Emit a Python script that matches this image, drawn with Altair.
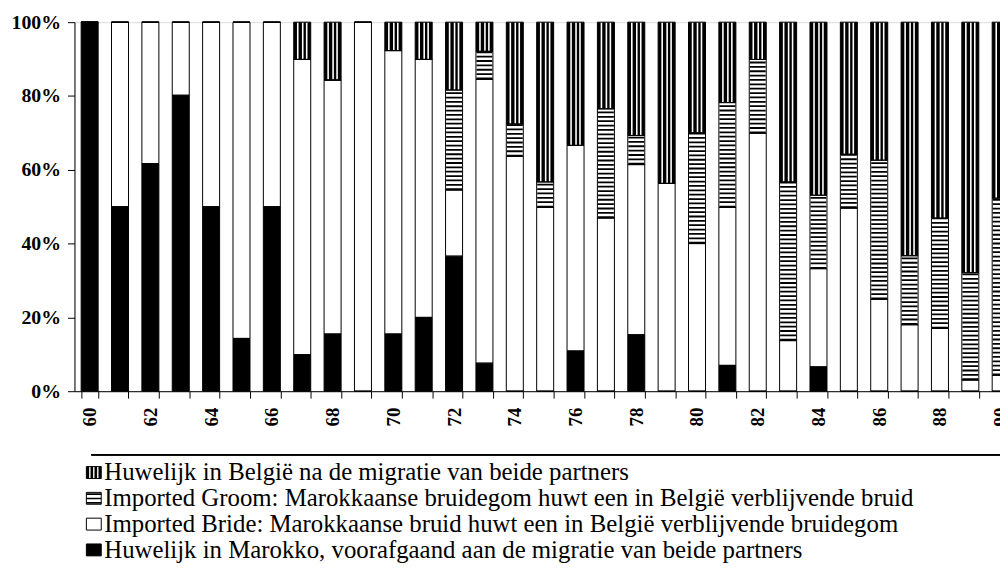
import altair as alt
import pandas as pd

# ---- data (percent shares per year) ----
years = list(range(60, 91))
marokko = [100, 50, 61.7, 80.2, 50, 14.3, 50, 9.9, 15.5, 0, 15.5, 20, 36.6, 7.6, 0, 0,
           10.9, 0, 15.3, 0, 0, 7, 0, 0, 6.6, 0, 0, 0, 0, 0, 0]
bride = [0, 50, 38.3, 19.8, 50, 85.7, 50, 80, 68.8, 100, 76.8, 69.9, 17.9, 76.9, 63.6, 49.8,
         55.7, 46.9, 46.1, 56.3, 40, 42.8, 69.9, 13.7, 26.6, 49.6, 24.9, 18, 17, 3, 4.3]
groom = [0, 0, 0, 0, 0, 0, 0, 0, 0, 0, 0, 0, 27.1, 7.6, 8.8, 6.9,
         0, 29.6, 7.9, 0, 30, 28.4, 20, 43, 19.9, 14.6, 37.7, 18.7, 29.9, 29.1, 48]
belgie = [0, 0, 0, 0, 0, 0, 0, 10.1, 15.7, 0, 7.7, 10.1, 18.4, 7.9, 27.6, 43.3,
          33.4, 23.5, 30.7, 43.7, 30, 21.8, 10.1, 43.3, 46.9, 35.8, 37.4, 63.3, 53.1, 67.9, 47.7]

categories = ["marokko", "bride", "groom", "belgie"]
legend_labels = {
    "belgie": "Huwelijk in België na de migratie van beide partners",
    "groom": "Imported Groom: Marokkaanse bruidegom huwt een in België verblijvende bruid",
    "bride": "Imported Bride: Marokkaanse bruid huwt een in België verblijvende bruidegom",
    "marokko": "Huwelijk in Marokko, voorafgaand aan de migratie van beide partners",
}
legend_order = ["belgie", "groom", "bride", "marokko"]

# ---- build stacked segments ----
series = {"marokko": marokko, "bride": bride, "groom": groom, "belgie": belgie}
rows = []
for i, yr in enumerate(years):
    base = 0.0
    for c in categories:
        v = series[c][i]
        rows.append({"year": yr, "cat": c, "y0": base, "y1": base + v})
        base += v
df = pd.DataFrame(rows)

leg = pd.DataFrame({"cat": legend_order,
                    "label": [legend_labels[c] for c in legend_order],
                    "row": list(range(len(legend_order)))})

SERIF = "Liberation Serif"
color_scale = alt.Scale(domain=categories, range=["#000000", "#ffffff", "#ffffff", "#000000"])

x_enc = alt.X("year:O", title=None,
              scale=alt.Scale(paddingInner=0.44, paddingOuter=0.22),
              axis=alt.Axis(labelAngle=270, labelExpr="datum.value % 2 == 0 ? datum.label : ''",
                            tickBand="extent", tickSize=7, labelPadding=9,
                            labelFont=SERIF, labelFontSize=19, labelFontWeight="bold",
                            labelColor="black", tickColor="black", domainColor="black",
                            domainWidth=1, tickWidth=1, labelOverlap=False, grid=False))
y_enc = alt.Y("y0:Q", title=None,
              scale=alt.Scale(domain=[0, 100], nice=False),
              axis=alt.Axis(values=[0, 20, 40, 60, 80, 100], labelExpr="datum.value + '%'",
                            tickSize=7, labelPadding=7, labelFont=SERIF, labelFontSize=20,
                            labelFontWeight="bold", labelColor="black", tickColor="black",
                            domainColor="black", domainWidth=1, tickWidth=1, grid=False))

base = alt.Chart(df)
fill = base.mark_bar(strokeWidth=0).encode(
    x=x_enc, y=y_enc, y2="y1:Q",
    color=alt.Color("cat:N", scale=color_scale, legend=None))

hstripe = base.transform_filter("datum.cat == 'groom' && datum.y1 > datum.y0").mark_rule(
    color="black", strokeWidth=16, strokeDash=[1.8, 2.6]).encode(x="year:O", y="y0:Q", y2="y1:Q")

vstripes = [base.transform_filter("datum.cat == 'belgie' && datum.y1 > datum.y0").mark_rule(
    color="white", strokeWidth=1.6, xOffset=off).encode(x="year:O", y="y0:Q", y2="y1:Q")
    for off in (-4.5, 0.5, 4.5)]

outline = base.mark_bar(fillOpacity=0, stroke="black", strokeWidth=1).encode(
    x="year:O", y="y0:Q", y2="y1:Q")

main = alt.layer(fill, hstripe, *vstripes, outline)

# ---- legend box below the plot ----
lbase = alt.Chart(leg)
ly = alt.Y("row:Q", axis=None, scale=alt.Scale(domain=[0, 3], range=[454, 532], zero=False, nice=False))
ly2 = alt.Y2("row:Q")
l_icon = lbase.mark_rect(yOffset=-6, y2Offset=6, strokeWidth=0).encode(
    x=alt.value(12), x2=alt.value(27), y=ly, y2=ly2,
    color=alt.Color("cat:N", scale=color_scale, legend=None))
l_h = lbase.transform_filter("datum.cat == 'groom'").mark_rule(
    color="black", strokeWidth=15, strokeDash=[1.6, 2.8], yOffset=-5, y2Offset=6).encode(
    x=alt.value(19.5), y=ly, y2=ly2)
l_v = [lbase.transform_filter("datum.cat == 'belgie'").mark_rule(
    color="white", strokeWidth=1.4, yOffset=-6, y2Offset=6).encode(x=alt.value(xv), y=ly, y2=ly2)
    for xv in (15.5, 19.5, 23.5)]
l_out = lbase.mark_rect(yOffset=-6, y2Offset=6, fillOpacity=0, stroke="black", strokeWidth=1).encode(
    x=alt.value(12), x2=alt.value(27), y=ly, y2=ly2)
l_text = lbase.mark_text(align="left", baseline="middle", font=SERIF, fontSize=25,
                         color="black").encode(
    x=alt.value(30), y=ly, text="label:N")
l_line = lbase.mark_rule(color="black", strokeWidth=1.5).encode(
    x=alt.value(17), x2=alt.value(1000), y=alt.value(436))

legend = alt.layer(l_line, l_icon, l_h, *l_v, l_out, l_text)

chart = alt.layer(main, legend).resolve_scale(y="independent").properties(
    width=949, height=372,
    autosize=alt.AutoSizeParams(type="none"),
    padding={"left": 67, "top": 12, "right": -16, "bottom": 182},
).configure_view(stroke=None).configure(background="white", font=SERIF
).configure_text(font=SERIF)

chart.save("out.html", embed_options={"renderer": "svg", "actions": False})
